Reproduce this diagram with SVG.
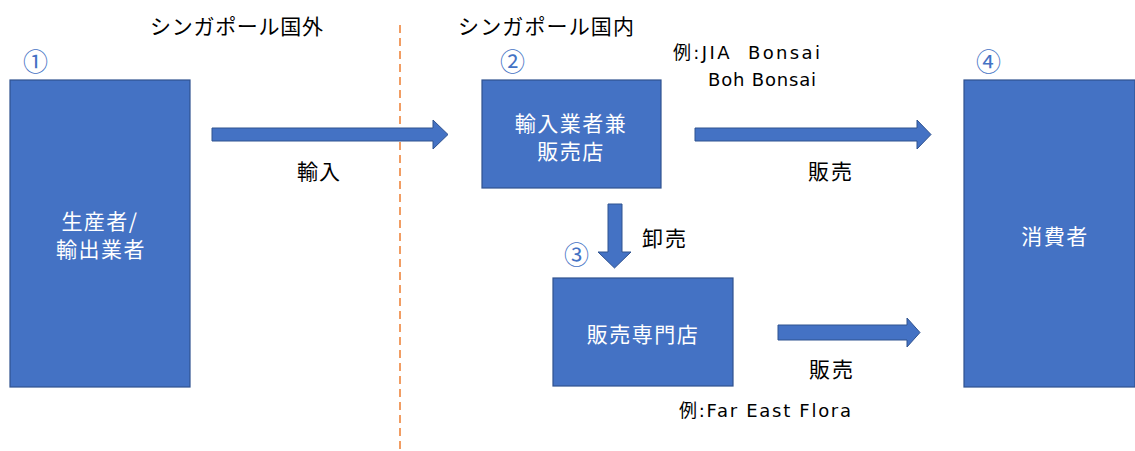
<svg xmlns="http://www.w3.org/2000/svg" width="1135" height="451" viewBox="0 0 1135 451">
<style>
.box{fill:#4472C4;stroke:#2F528F;stroke-width:1.2}
.arr{fill:#4472C4;stroke:#2F528F;stroke-width:1}
.t{font-family:"Noto Sans CJK JP","Liberation Sans",sans-serif;font-size:21px;fill:#000}
.w{font-family:"Noto Sans CJK JP","Liberation Sans",sans-serif;font-size:21px;fill:#fff;text-anchor:middle;letter-spacing:1.5px}
.n{font-family:"Noto Sans CJK JP","Liberation Sans",sans-serif;font-size:25px;fill:#4472C4}
.e{font-family:"DejaVu Sans","Noto Sans CJK JP",sans-serif;font-size:18px;fill:#000}
</style>
<rect width="1135" height="451" fill="#fff"/>
<line x1="400" y1="25" x2="400" y2="451" stroke="#ED7D31" stroke-width="1.5" stroke-dasharray="8,5"/>
<text class="t" x="150" y="34" textLength="173">シンガポール国外</text>
<text class="t" x="458" y="34" textLength="176">シンガポール国内</text>
<g id="node1">
<rect class="box" x="10" y="80" width="180" height="307"/>
<text class="n" x="23" y="71">①</text>
<text class="w" x="100" y="229">生産者/</text>
<text class="w" x="101" y="257">輸出業者</text>
</g>
<g id="node2">
<rect class="box" x="482" y="80" width="179" height="108"/>
<text class="n" x="500" y="71">②</text>
<text class="w" x="571" y="131">輸入業者兼</text>
<text class="w" x="571" y="159">販売店</text>
</g>
<g id="node3">
<rect class="box" x="553" y="278" width="180" height="108"/>
<text class="n" x="564" y="264">③</text>
<text class="w" x="643" y="342">販売専門店</text>
</g>
<g id="node4">
<rect class="box" x="964" y="80" width="171" height="307"/>
<text class="n" x="976" y="71">④</text>
<text class="w" x="1055" y="244">消費者</text>
</g>
<g id="connectors">
<polygon class="arr" points="212,128 433,128 433,120 448,134.5 433,149 433,141 212,141"/>
<polygon class="arr" points="695,128 917,128 917,120 931,134.5 917,149 917,141 695,141"/>
<polygon class="arr" points="608,204 622,204 622,252 631,252 614.5,268 598,252 608,252"/>
<polygon class="arr" points="778,325 907,325 907,318 920,332.5 907,347 907,340 778,340"/>
</g>
<text class="t" x="297" y="179" textLength="43">輸入</text>
<text class="t" x="808" y="179" textLength="44">販売</text>
<text class="t" x="642" y="246" textLength="44">卸売</text>
<text class="t" x="809" y="377" textLength="44">販売</text>
<text class="e" x="673" y="59" textLength="147" xml:space="preserve">例:JIA  Bonsai</text>
<text class="e" x="708" y="86" textLength="108">Boh Bonsai</text>
<text class="e" x="679" y="417" textLength="172">例:Far East Flora</text>
</svg>
